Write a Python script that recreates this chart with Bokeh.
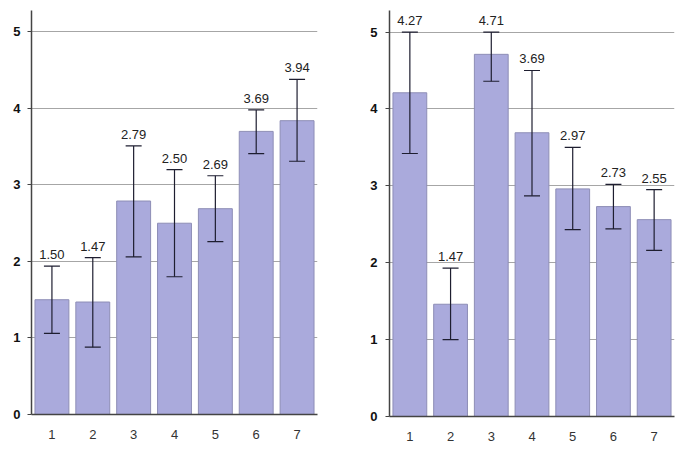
from bokeh.plotting import figure
from bokeh.layouts import row
from bokeh.models import ColumnDataSource, Whisker, TeeHead, FixedTicker, Range1d
from bokeh.core.properties import value
from bokeh.embed import file_html
from bokeh.resources import INLINE

categories = [1, 2, 3, 4, 5, 6, 7]

left_means = [1.50, 1.47, 2.79, 2.50, 2.69, 3.70, 3.84]
left_upper = [1.94, 2.05, 3.51, 3.20, 3.12, 3.98, 4.38]
left_lower = [1.06, 0.88, 2.06, 1.80, 2.26, 3.41, 3.31]
left_labels = ["1.50", "1.47", "2.79", "2.50", "2.69", "3.69", "3.94"]

right_means = [4.21, 1.46, 4.71, 3.69, 2.96, 2.73, 2.56]
right_upper = [5.00, 1.93, 5.00, 4.50, 3.50, 3.02, 2.95]
right_lower = [3.42, 1.00, 4.36, 2.87, 2.43, 2.44, 2.16]
right_labels = ["4.27", "1.47", "4.71", "3.69", "2.97", "2.73", "2.55"]

y_ticks = [0, 1, 2, 3, 4, 5]

FONT = "Liberation Sans"
BAR_FILL = "#aaaadc"
BAR_LINE = "#8e8eb6"
ERR_COLOR = "#1e1e30"


def make_panel(means, upper, lower, labels, width, height, border_left,
               border_right, border_top, ystandoff):
    p = figure(width=width, height=height, output_backend="svg", toolbar_location=None,
               x_range=Range1d(0.5, 7.5), y_range=Range1d(0, 5.28),
               min_border_left=border_left, min_border_right=border_right,
               min_border_top=border_top, min_border_bottom=0)
    p.outline_line_color = None
    src = ColumnDataSource(dict(x=categories, top=means, up=upper, lo=lower, lab=labels))
    p.vbar(x="x", top="top", bottom=0, width=0.83, source=src,
           fill_color=BAR_FILL, line_color=BAR_LINE, line_width=1)
    w = Whisker(base="x", upper="up", lower="lo", source=src, level="overlay",
                line_color=ERR_COLOR, line_width=1.2,
                upper_head=TeeHead(size=16, line_color=ERR_COLOR, line_width=1.2),
                lower_head=TeeHead(size=16, line_color=ERR_COLOR, line_width=1.2))
    p.add_layout(w)
    p.text(x="x", y="up", text="lab", source=src, text_align="center",
           text_baseline="bottom", y_offset=-7, text_font=value(FONT),
           text_font_size="13px", text_color="#222222")

    p.xgrid.visible = False
    p.ygrid.ticker = FixedTicker(ticks=y_ticks)
    p.ygrid.grid_line_color = "#a6a6a6"
    p.ygrid.grid_line_width = 1

    p.yaxis.ticker = FixedTicker(ticks=y_ticks)
    p.yaxis.axis_line_color = "#444444"
    p.yaxis.axis_line_width = 1.5
    p.yaxis.major_tick_out = 4
    p.yaxis.major_tick_in = 0
    p.yaxis.major_tick_line_color = "#444444"
    p.yaxis.minor_tick_line_color = None
    p.yaxis.major_label_text_font = FONT
    p.yaxis.major_label_text_font_size = "13px"
    p.yaxis.major_label_text_font_style = "bold"
    p.yaxis.major_label_text_color = "#111111"
    p.yaxis.major_label_standoff = ystandoff

    p.xaxis.ticker = FixedTicker(ticks=categories)
    p.xaxis.axis_line_color = "#444444"
    p.xaxis.axis_line_width = 1.5
    p.xaxis.major_tick_line_color = None
    p.xaxis.minor_tick_line_color = None
    p.xaxis.major_label_text_font = FONT
    p.xaxis.major_label_text_font_size = "13px"
    p.xaxis.major_label_text_color = "#333333"
    p.xaxis.major_label_standoff = 9
    return p


p1 = make_panel(left_means, left_upper, left_lower, left_labels,
                340, 441, 31, 23, 7, 7)
p2 = make_panel(right_means, right_upper, right_lower, right_labels,
                337, 443, 49, 3, 10, 8)

layout = row(p1, p2)
open("out.html", "w").write(file_html(layout, INLINE))
